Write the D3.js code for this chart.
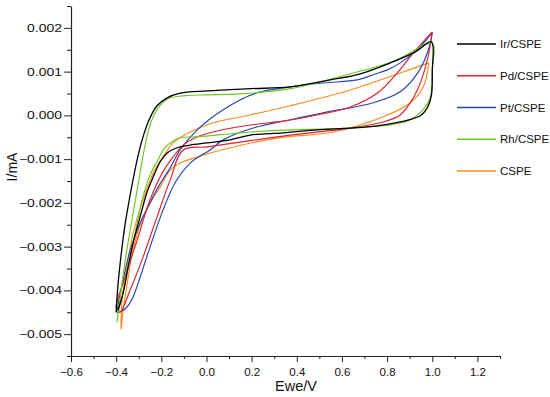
<!DOCTYPE html>
<html>
<head>
<meta charset="utf-8">
<script src="https://cdn.jsdelivr.net/npm/d3@7"></script>
<style>
  html, body { margin: 0; padding: 0; background: #fff; }
  svg { display: block; }
  text { font-family: "Liberation Sans", Arial, sans-serif; }
</style>
</head>
<body>
<svg id="chart" width="550" height="397"></svg>
<script>
// ---- Data (E in V, I in mA) ----
const seriesNames = ["Ir/CSPE", "Pd/CSPE", "Pt/CSPE", "Rh/CSPE", "CSPE"];
const seriesColors = ["#000000", "#e0202e", "#2346b4", "#6cc722", "#ff8a1c"];

const irCSPE = [
  [-0.40,-0.0045],[-0.392,-0.00388],[-0.378,-0.00319],[-0.361,-0.00251],[-0.338,-0.00182],
  [-0.312,-0.00113],[-0.285,-0.00056],[-0.254,-0.0001],[-0.219,0.00022],[-0.174,0.0004],
  [-0.117,0.00051],[0.003,0.00056],[0.194,0.00061],[0.371,0.00065],[0.548,0.00081],
  [0.681,0.00095],[0.814,0.0012],[0.925,0.00145],[0.996,0.00168],
  [1.0,0.001],[0.996,0.00045],[0.978,0.00017],[0.947,-0.00001],[0.858,-0.00015],
  [0.757,-0.00024],[0.637,-0.00029],[0.491,-0.00033],[0.34,-0.0004],[0.194,-0.00045],
  [0.105,-0.00056],[0.003,-0.00063],[-0.072,-0.00068],[-0.13,-0.00074],[-0.174,-0.00086],
  [-0.205,-0.00106],[-0.236,-0.00141],[-0.263,-0.00175],[-0.294,-0.00232],[-0.325,-0.00292],
  [-0.347,-0.00347],[-0.369,-0.00406],[-0.392,-0.00445]
];

const pdCSPE = [
  [1.0,0.00191],[0.916,0.00143],[0.845,0.00097],[0.757,0.00051],[0.637,0.00019],
  [0.491,0.00001],[0.34,-0.00013],[0.194,-0.00022],[0.029,-0.00038],[-0.05,-0.00051],
  [-0.103,-0.00068],[-0.148,-0.00095],[-0.196,-0.00132],[-0.25,-0.00193],[-0.307,-0.00285],
  [-0.369,-0.00383],[-0.40,-0.0044],
  [-0.383,-0.0045],[-0.338,-0.00399],[-0.281,-0.00324],[-0.219,-0.00232],[-0.161,-0.00148],
  [-0.103,-0.00079],[0.003,-0.00072],[0.149,-0.00061],[0.371,-0.00045],[0.637,-0.00029],
  [0.783,-0.00015],[0.858,0.00001],[0.903,0.00029],[0.934,0.00058],[0.96,0.00093],
  [0.983,0.00138],[1.0,0.00191]
];

const ptCSPE = [
  [1.0,0.00189],[0.934,0.0015],[0.858,0.0012],[0.801,0.00104],[0.739,0.00093],
  [0.668,0.00081],[0.517,0.00074],[0.371,0.00065],[0.22,0.00051],[0.074,0.00013],
  [-0.041,-0.00033],[-0.117,-0.00079],[-0.161,-0.0012],[-0.214,-0.00164],[-0.259,-0.00209],
  [-0.294,-0.00246],[-0.338,-0.00308],[-0.369,-0.00376],[-0.392,-0.00434],[-0.396,-0.0045],
  [-0.374,-0.00447],[-0.352,-0.00438],[-0.325,-0.00415],[-0.294,-0.0037],[-0.25,-0.00301],
  [-0.192,-0.00216],[-0.139,-0.00154],[-0.072,-0.00109],[0.016,-0.00079],[0.074,-0.00056],
  [0.207,-0.00029],[0.371,-0.0001],[0.517,0.00006],[0.739,0.00029],[0.858,0.00054],
  [0.938,0.00099],[0.983,0.0015],[1.0,0.00189]
];

const rhCSPE = [
  [-0.396,-0.00473],[-0.378,-0.00399],[-0.356,-0.00319],[-0.33,-0.00239],[-0.303,-0.00159],
  [-0.276,-0.00079],[-0.25,-0.00022],[-0.214,0.00017],[-0.17,0.00038],[-0.095,0.00045],
  [0.003,0.00047],[0.149,0.00049],[0.371,0.00061],[0.637,0.00095],[0.836,0.00125],[1.0,0.00164],
  [1.0,0.00104],[0.992,0.00042],[0.96,0.00013],[0.903,-0.0001],[0.814,-0.00022],
  [0.694,-0.00026],[0.548,-0.00031],[0.371,-0.00033],[0.194,-0.00038],[-0.041,-0.00049],
  [-0.117,-0.00051],[-0.161,-0.00063],[-0.192,-0.00079],[-0.219,-0.00106],[-0.25,-0.00136],
  [-0.285,-0.00193],[-0.316,-0.00269],[-0.338,-0.00324],[-0.361,-0.00383],[-0.383,-0.00434],
  [-0.396,-0.00468]
];

const cspe = [
  [0.985,0.0012],[0.858,0.00097],[0.637,0.00058],[0.371,0.00022],[0.194,0.00001],
  [0.029,-0.00017],[-0.072,-0.00038],[-0.148,-0.00063],[-0.192,-0.00095],[-0.236,-0.00132],
  [-0.281,-0.00193],[-0.325,-0.00269],[-0.352,-0.00347],[-0.374,-0.00422],[-0.378,-0.0049],
  [-0.369,-0.00445],[-0.352,-0.00388],[-0.33,-0.00319],[-0.294,-0.00251],[-0.241,-0.00193],
  [-0.205,-0.00164],[-0.161,-0.00125],[-0.117,-0.00109],[-0.041,-0.00095],[0.105,-0.00074],
  [0.327,-0.00051],[0.561,-0.00038],[0.783,-0.00003],[0.903,0.00029],[0.96,0.00065],[0.985,0.0012]
];

const seriesData = [irCSPE, pdCSPE, ptCSPE, rhCSPE, cspe];
const drawOrder = [4, 2, 1, 3, 0];

const xTicks = [-0.6, -0.4, -0.2, 0.0, 0.2, 0.4, 0.6, 0.8, 1.0, 1.2];
const xMinorTicks = [-0.5, -0.3, -0.1, 0.1, 0.3, 0.5, 0.7, 0.9, 1.1, 1.3];
const yTicks = [0.002, 0.001, 0.000, -0.001, -0.002, -0.003, -0.004, -0.005];
const yMinorTicks = [0.0025, 0.0015, 0.0005, -0.0005, -0.0015, -0.0025, -0.0035, -0.0045, -0.0055];

// ---- Layout ----
const svg = d3.select("#chart");
const mLeft = 71, mRight = 500, mTop = 6, mBottom = 356;

const x = d3.scaleLinear().domain([-0.6, 1.3]).range([mLeft, mRight]);
const y = d3.scaleLinear().domain([-0.0055, 0.0025]).range([mBottom, mTop]);

const fmtX = v => (v < -1e-12 ? "\u2212" : "") + Math.abs(v).toFixed(1);
const fmtY = v => (v < -1e-12 ? "\u2212" : "") + Math.abs(v).toFixed(3);

// X axis
const gx = svg.append("g").attr("transform", `translate(0,${mBottom})`);
gx.call(d3.axisBottom(x).tickValues(xTicks).tickFormat(fmtX).tickSize(6).tickPadding(3).tickSizeOuter(0));
gx.append("g").call(d3.axisBottom(x).tickValues(xMinorTicks).tickFormat("").tickSize(3).tickSizeOuter(0))
  .select(".domain").remove();

// Y axis
const gy = svg.append("g").attr("transform", `translate(${mLeft},0)`);
gy.call(d3.axisLeft(y).tickValues(yTicks).tickFormat(fmtY).tickSize(7).tickPadding(2).tickSizeOuter(0));
gy.append("g").call(d3.axisLeft(y).tickValues(yMinorTicks).tickFormat("").tickSize(4).tickSizeOuter(0))
  .select(".domain").remove();

svg.selectAll(".domain").attr("stroke", "#222").attr("stroke-width", 1.2);
svg.selectAll(".tick line").attr("stroke", "#222").attr("stroke-width", 1);
gx.selectAll(".tick text").attr("font-size", 11.5).attr("fill", "#111")
  .attr("font-family", "'Liberation Sans', Arial, sans-serif")
  .attr("dy", "0.95em");
gy.selectAll(".tick text").attr("font-size", 10.5).attr("fill", "#111")
  .attr("font-family", "'Liberation Sans', Arial, sans-serif")
  .each(function () {
    const len = this.getComputedTextLength();
    d3.select(this).attr("textLength", len * 1.33).attr("lengthAdjust", "spacingAndGlyphs");
  });

// Axis titles
svg.append("text")
  .attr("x", 296).attr("y", 391)
  .attr("text-anchor", "middle").attr("font-size", 14.5).attr("fill", "#111")
  .attr("font-family", "'Open Sans', sans-serif")
  .text("Ewe/V");
svg.append("text")
  .attr("transform", `translate(17,167) rotate(-90)`)
  .attr("text-anchor", "middle").attr("font-size", 14).attr("fill", "#111")
  .attr("font-family", "'Open Sans', sans-serif")
  .text("I/mA");

// Curves
const line = d3.line()
  .x(d => x(d[0]))
  .y(d => y(d[1]))
  .curve(d3.curveCatmullRom.alpha(0.5));

svg.append("g").selectAll("path")
  .data(drawOrder)
  .join("path")
  .attr("d", i => line(seriesData[i]))
  .attr("fill", "none")
  .attr("stroke", i => seriesColors[i])
  .attr("stroke-width", i => i === 0 ? 1.3 : 1.15)
  .attr("stroke-linejoin", "round");

// Legend
const legend = svg.append("g");
const legendY = d3.scalePoint().domain(seriesNames).range([44, 171]);
seriesNames.forEach((name, i) => {
  const ly = legendY(name);
  legend.append("line")
    .attr("x1", 457).attr("x2", 496).attr("y1", ly).attr("y2", ly)
    .attr("stroke", seriesColors[i]).attr("stroke-width", 1.6);
  legend.append("text")
    .attr("x", 500).attr("y", ly).attr("dy", "0.35em")
    .attr("font-size", 11.5).attr("fill", "#111")
    .attr("font-family", "'Open Sans', sans-serif")
    .text(name);
});
</script>
</body>
</html>
